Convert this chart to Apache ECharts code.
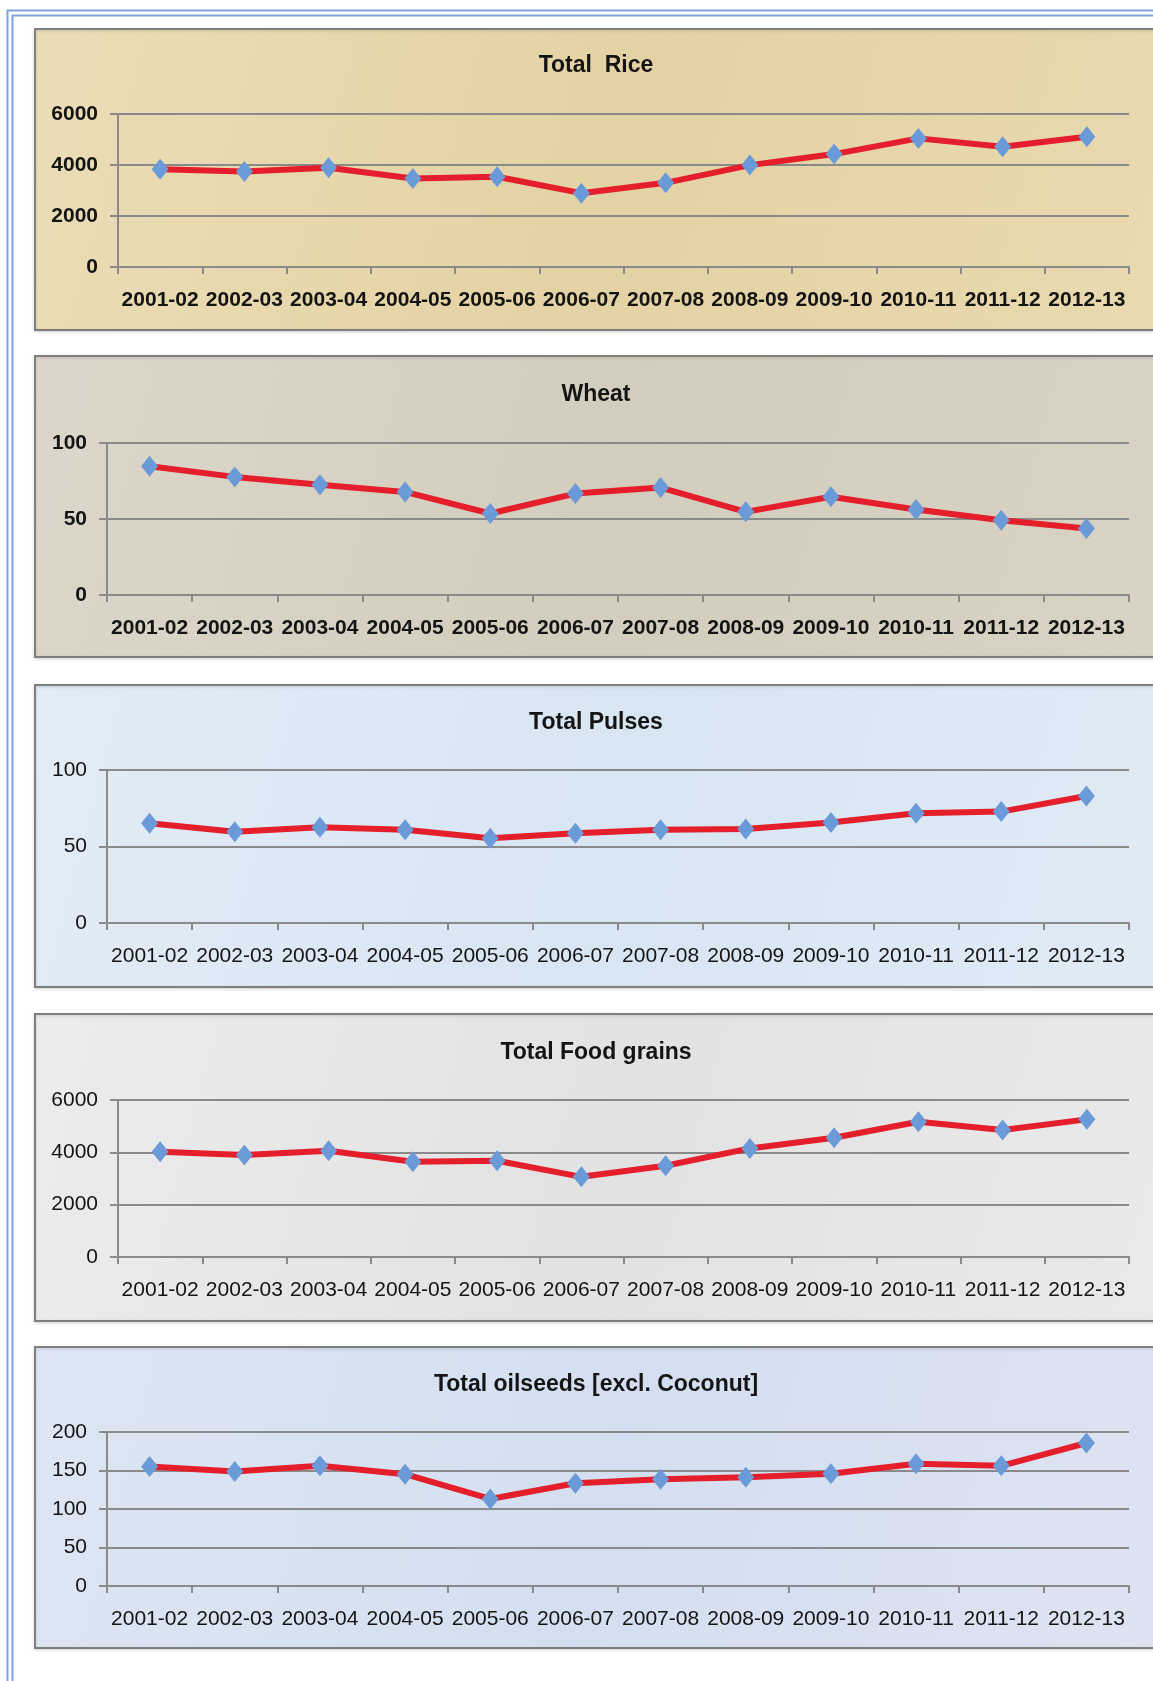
<!DOCTYPE html>
<html><head><meta charset="utf-8">
<script src="https://cdn.jsdelivr.net/npm/echarts@6/dist/echarts.min.js"></script>
<style>html,body{margin:0;padding:0;background:#fff}#c{width:1153px;height:1681px}</style>
</head><body><div id="c"></div>
<script>
// ---- data ----
const categories = ['2001-02','2002-03','2003-04','2004-05','2005-06','2006-07','2007-08','2008-09','2009-10','2010-11','2011-12','2012-13'];
const riceValues = [3838,3747,3891,3472,3537,2895,3301,3996,4428,5044,4716,5109];
const wheatValues = [84.7,77.7,72.6,67.8,53.6,66.7,70.7,54.7,64.6,56.2,49.2,43.8];
const pulsesValues = [65.2,59.6,62.6,60.9,55.4,58.7,60.9,61.5,65.7,71.7,72.8,83.0];
const foodgrainValues = [4021,3894,4060,3638,3677,3064,3485,4149,4557,5170,4851,5260];
const oilseedValues = [155.2,148.7,156.1,145.2,113.0,133.5,138.7,141.3,145.7,158.7,156.1,185.7];
const chartTitles = ['Total  Rice','Wheat','Total Pulses','Total Food grains','Total oilseeds [excl. Coconut]'];
const yMax = [6000,100,100,6000,200];
const yInterval = [2000,50,50,2000,50];

// ---- layout ----
const FONT = "'Liberation Sans', Arial, sans-serif";
const seriesData = [riceValues, wheatValues, pulsesValues, foodgrainValues, oilseedValues];
const panels = [
  {top:29,  bottom:330,  gTop:114,  gBottom:267,  gLeft:118, titleY:66,   bold:true,  fill:['#ebddb6','#e3d2a3','#e9dab0']},
  {top:356, bottom:657,  gTop:443,  gBottom:595,  gLeft:107, titleY:395,  bold:true,  fill:['#dcd7ca','#d3cdbd','#d9d3c5']},
  {top:685, bottom:987,  gTop:770,  gBottom:923,  gLeft:107, titleY:723,  bold:false, fill:['#e2ecf6','#d8e5f2','#e0ebf5']},
  {top:1014,bottom:1321, gTop:1100, gBottom:1257, gLeft:118, titleY:1053, bold:false, fill:['#ececec','#e2e2e2','#eaeaea']},
  {top:1347,bottom:1648, gTop:1432, gBottom:1586, gLeft:107, titleY:1385, bold:false, fill:['#dde6f2','#d3dff0','#dfe3f1']}
];
const W = 1153, H = 1681;
const axisColor = '#8a8a8a';
const textColor = '#141414';

const graphic = [];
// outer double blue frame
const frameColor = '#7ea3dc';
graphic.push({type:'rect', z:-20, shape:{x:7.5, y:10.5, width:W, height:H}, style:{fill:'none', stroke:frameColor, lineWidth:2}});
graphic.push({type:'rect', z:-20, shape:{x:12.5, y:15.5, width:W, height:H}, style:{fill:'none', stroke:frameColor, lineWidth:2}});

const grid = [], xAxis = [], yAxis = [], series = [];
panels.forEach((p, i) => {
  graphic.push({
    type:'rect', z:-10,
    shape:{x:35, y:p.top, width:W, height:p.bottom - p.top},
    style:{
      fill:{type:'linear', x:0, y:0, x2:1, y2:1, colorStops:[
        {offset:0, color:p.fill[0]}, {offset:0.5, color:p.fill[1]}, {offset:1, color:p.fill[2]}]},
      stroke:'#7f7f7f', lineWidth:2,
      shadowColor:'rgba(0,0,0,0.15)', shadowBlur:3, shadowOffsetY:1
    }
  });
  graphic.push({
    type:'text', z:5,
    style:{text:chartTitles[i], x:596, y:p.titleY, textAlign:'center', textVerticalAlign:'middle',
      font:'bold 23px ' + FONT, fill:textColor}
  });
  grid.push({left:p.gLeft, right:W - 1129, top:p.gTop, height:p.gBottom - p.gTop, containLabel:false});
  const weight = p.bold ? 'bold' : 'normal';
  xAxis.push({
    type:'category', gridIndex:i, data:categories, boundaryGap:true,
    axisLine:{show:true, lineStyle:{color:axisColor, width:2}},
    axisTick:{show:true, length:7, lineStyle:{color:axisColor, width:2}},
    axisLabel:{interval:0, margin:23, fontSize:21, fontWeight:weight, color:textColor, fontFamily:FONT},
    splitLine:{show:false}
  });
  yAxis.push({
    type:'value', gridIndex:i, min:0, max:yMax[i], interval:yInterval[i],
    axisLine:{show:true, lineStyle:{color:axisColor, width:2}},
    axisTick:{show:true, length:8, lineStyle:{color:axisColor, width:2}},
    axisLabel:{margin:20, fontSize:21, fontWeight:weight, color:textColor, fontFamily:FONT,
      formatter: v => String(v)},
    splitLine:{show:true, lineStyle:{color:axisColor, width:2}}
  });
  series.push({
    type:'line', xAxisIndex:i, yAxisIndex:i, data:seriesData[i],
    symbol:'diamond', symbolSize:[17,21], showAllSymbol:true,
    lineStyle:{color:'#e41e2b', width:6},
    itemStyle:{color:'#6b9ad8'},
    z:3
  });
});

const chart = echarts.init(document.getElementById('c'), null, {renderer:'canvas'});
chart.setOption({
  animation:false,
  backgroundColor:'#ffffff',
  graphic: graphic,
  grid: grid, xAxis: xAxis, yAxis: yAxis, series: series
});
</script>
</body></html>
